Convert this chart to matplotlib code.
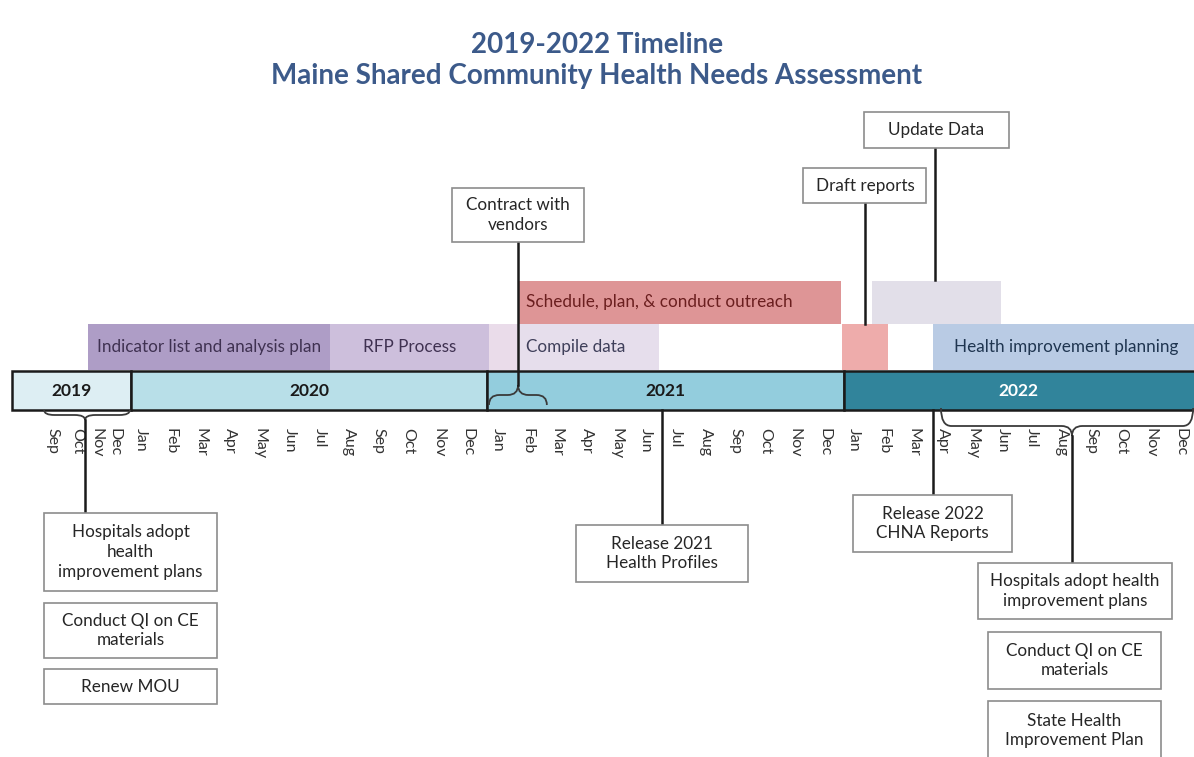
import numpy as np
import matplotlib
matplotlib.use('Agg')
import matplotlib.pyplot as plt
from matplotlib.patches import Rectangle, PathPatch
from matplotlib.path import Path

plt.rcParams['font.family'] = ['Lato', 'DejaVu Sans']

# timeline in months, 0 = start of Sep 2019
years = ['2019', '2020', '2021', '2022']
year_start = [0, 4, 16, 28]
year_end = [4, 16, 28, 40]
year_fill = ['#ddeef3', '#b8dfe8', '#93cddd', '#31849b']
year_txt = ['#1a1a1a', '#1a1a1a', '#1a1a1a', 'white']

mon = ['Jan', 'Feb', 'Mar', 'Apr', 'May', 'Jun', 'Jul', 'Aug', 'Sep', 'Oct', 'Nov', 'Dec']
months = ['Sep', 'Oct', 'Nov', 'Dec'] + mon * 3

# activity bars
act_names = ['Indicator list and analysis plan', 'RFP Process', '', 'Compile data',
             'Schedule, plan, & conduct outreach', '', '', 'Health improvement planning']
act_start = [2.55, 10.7, 16.05, 17.05, 17.05, 27.95, 28.95, 31.0]
act_end = [10.7, 16.05, 17.05, 21.8, 27.9, 29.5, 33.3, 40.0]
act_row = [0, 0, 0, 0, 1, 0, 1, 0]
act_col = ['#ae9dc6', '#cdbfdc', '#eadcea', '#e6deec', '#de9596', '#eeacab', '#e2dfe9', '#b9cbe4']
act_tcol = ['#3f3151', '#3f3151', '#3f3151', '#3f3f5a', '#6b1f1f', '#000000', '#000000', '#1f3550']
act_align = ['center', 'center', 'center', 'left', 'left', 'center', 'center', 'center']

# milestones: label, month
ms_text = ['Contract with\nvendors', 'Draft reports', 'Update Data',
           'Release 2021\nHealth Profiles', 'Release 2022\nCHNA Reports']
ms_month = [17.04, 28.72, 31.08, 21.9, 31.0]

# grouped milestones (with a brace)
left_group = ['Hospitals adopt\nhealth\nimprovement plans', 'Conduct QI on CE\nmaterials', 'Renew MOU']
right_group = ['Hospitals adopt health\nimprovement plans', 'Conduct QI on CE\nmaterials',
               'State Health\nImprovement Plan']

fig = plt.figure(figsize=(11.94, 7.57), dpi=100)
ax = fig.add_axes([0, 0, 1, 1])
ax.set_xlim(-0.404, 39.80)
ax.set_ylim(757, 0)
ax.axis('off')

# title
fig.text(0.5, 1 - 45 / 757, '2019-2022 Timeline', ha='center', va='center',
         fontsize=20, fontweight='bold', color='#3c5a8a')
fig.text(0.5, 1 - 76 / 757, 'Maine Shared Community Health Needs Assessment', ha='center',
         va='center', fontsize=20, fontweight='bold', color='#3c5a8a')

# activity rows (y in pixel units, top/bottom)
row_top = [324, 281]
row_bot = [370, 324]
for i in range(len(act_names)):
    r = act_row[i]
    ax.add_patch(Rectangle((act_start[i], row_top[r]), act_end[i] - act_start[i],
                           row_bot[r] - row_top[r], facecolor=act_col[i], edgecolor='none'))
    if act_names[i]:
        yc = (row_top[r] + row_bot[r]) / 2
        if act_align[i] == 'left':
            ax.text(act_start[i] + 0.25, yc, act_names[i], ha='left', va='center',
                    fontsize=12.3, color=act_tcol[i])
        else:
            ax.text((act_start[i] + act_end[i]) / 2, yc, act_names[i], ha='center',
                    va='center', fontsize=12.3, color=act_tcol[i])

# year bar
for i in range(len(years)):
    ax.add_patch(Rectangle((year_start[i], 371), year_end[i] - year_start[i], 39,
                           facecolor=year_fill[i], edgecolor='#1a1a1a', lw=1.8, zorder=3))
    ax.text((year_start[i] + min(year_end[i], 39.8)) / 2, 390.5, years[i], ha='center',
            va='center', fontsize=12.5, fontweight='bold', color=year_txt[i], zorder=4)

# month labels
lab_pos = [1.35, 2.2, 2.85, 3.45] + [m + 0.35 for m in range(4, 40)]
for p, name in zip(lab_pos, months):
    ax.text(p, 428, name, rotation=270, ha='center', va='top', fontsize=11.5, color='#333333')


def brace(x0, x1, xm, y0, ymid, ytip):
    q = 0.35
    verts = [(x0, y0), (x0, ymid), (x0 + q, ymid),
             (xm - q, ymid), (xm, ymid), (xm, ytip),
             (xm, ymid), (xm + q, ymid),
             (x1 - q, ymid), (x1, ymid), (x1, y0)]
    codes = [Path.MOVETO, Path.CURVE3, Path.CURVE3,
             Path.LINETO, Path.CURVE3, Path.CURVE3,
             Path.CURVE3, Path.CURVE3,
             Path.LINETO, Path.CURVE3, Path.CURVE3]
    ax.add_patch(PathPatch(Path(verts, codes), facecolor='none', edgecolor='#3a3a3a',
                           lw=1.3, zorder=5))


def note(text, xc, w, ytop, ybot):
    ax.add_patch(Rectangle((xc - w / 2, ytop), w, ybot - ytop, facecolor='white',
                           edgecolor='#8c8c8c', lw=1.2, zorder=6))
    ax.text(xc, (ytop + ybot) / 2, text, ha='center', va='center', fontsize=12.3,
            color='#262626', linespacing=1.3, zorder=7)


def stem(x, y0, y1):
    ax.plot([x, x], [y0, y1], color='#1a1a1a', lw=1.8, zorder=5)


# braces
brace(1.08, 3.97, 2.46, 410, 415, 420)
brace(16.06, 18.01, ms_month[0], 405, 395, 385)
brace(31.28, 39.77, 35.69, 408, 426, 436)

# top milestones
stem(ms_month[0], 242, 385)
note(ms_text[0], ms_month[0], 4.44, 188, 242)
stem(ms_month[1], 203, 324)
note(ms_text[1], ms_month[1], 4.14, 168, 203)
stem(ms_month[2], 148, 280)
note(ms_text[2], 31.13, 4.88, 112, 148)

# bottom milestones
stem(ms_month[3], 410, 525)
note(ms_text[3], ms_month[3], 5.79, 525, 582)
stem(ms_month[4], 410, 495)
note(ms_text[4], ms_month[4], 5.35, 495, 552)

# left group
stem(2.46, 420, 513)
left_y = [(513, 591), (603, 658), (669, 704)]
for t, (a, b) in zip(left_group, left_y):
    note(t, 3.99, 5.83, a, b)

# right group
stem(35.69, 436, 563)
right_y = [(563, 619), (632, 689), (701, 760)]
right_x = [35.79, 35.77, 35.77]
right_w = [6.53, 5.83, 5.83]
for t, (a, b), xc, w in zip(right_group, right_y, right_x, right_w):
    note(t, xc, w, a, b)

fig.savefig('out.png', dpi=100, facecolor='white')
